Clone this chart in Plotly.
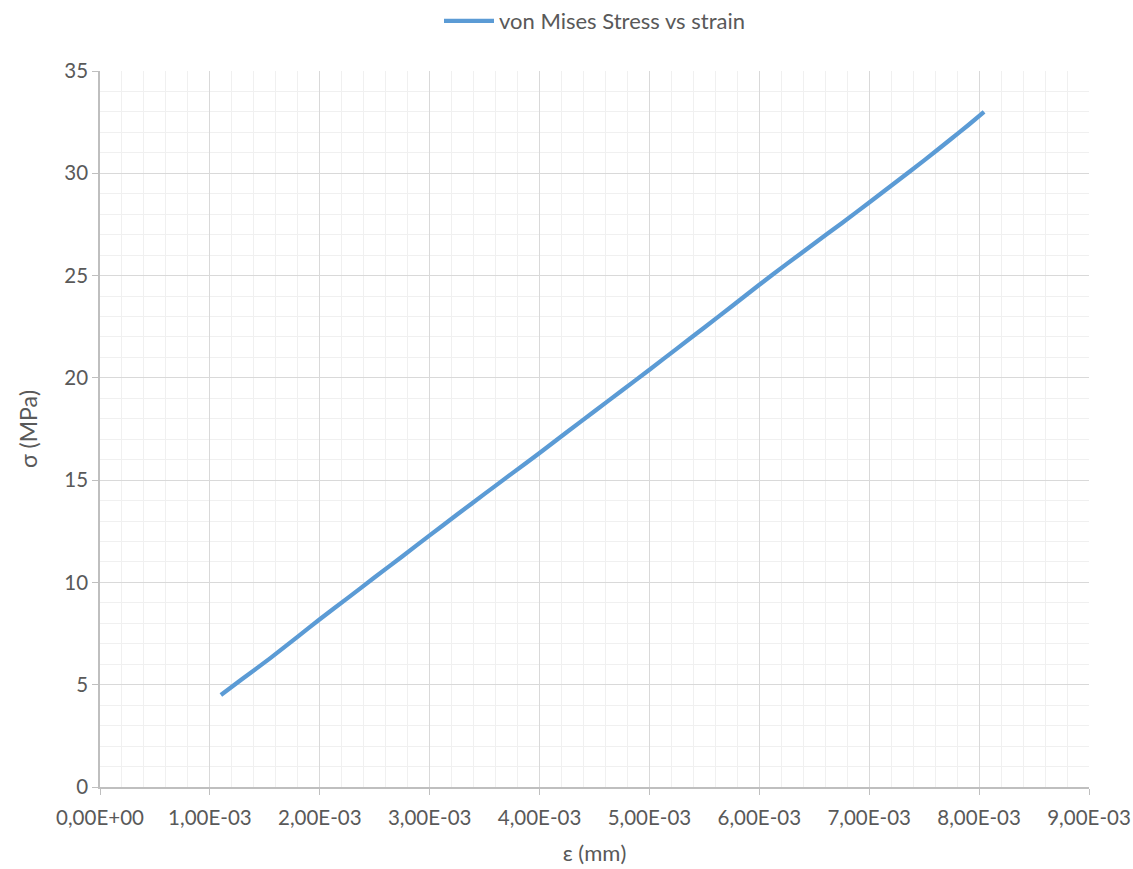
import plotly.graph_objects as go

# von Mises stress vs strain readings
strain = [1.10e-3, 1.30e-3, 1.55e-3, 1.80e-3, 2.00e-3, 2.25e-3, 2.50e-3, 2.75e-3,
          3.00e-3, 3.25e-3, 3.50e-3, 3.75e-3, 4.00e-3, 4.25e-3, 4.50e-3, 4.75e-3,
          5.00e-3, 5.25e-3, 5.50e-3, 5.75e-3, 6.00e-3, 6.25e-3, 6.50e-3, 6.75e-3,
          7.00e-3, 7.25e-3, 7.50e-3, 7.75e-3, 7.90e-3, 8.045e-3]
stress = [4.50, 5.30, 6.30, 7.35, 8.20, 9.22, 10.25, 11.27,
          12.30, 13.32, 14.33, 15.33, 16.33, 17.35, 18.37, 19.38,
          20.40, 21.43, 22.46, 23.50, 24.55, 25.57, 26.57, 27.56,
          28.57, 29.60, 30.63, 31.70, 32.35, 33.00]

x_ticks = [0, 1e-3, 2e-3, 3e-3, 4e-3, 5e-3, 6e-3, 7e-3, 8e-3, 9e-3]
x_tick_text = ["0,00E+00", "1,00E-03", "2,00E-03", "3,00E-03", "4,00E-03",
               "5,00E-03", "6,00E-03", "7,00E-03", "8,00E-03", "9,00E-03"]
y_ticks = [0, 5, 10, 15, 20, 25, 30, 35]

font_family = "Lato, 'Open Sans', sans-serif"
text_color = "#595959"

fig = go.Figure()
fig.add_trace(go.Scatter(
    x=strain, y=stress, mode="lines",
    name="von Mises Stress vs strain",
    line=dict(color="#5B9BD5", width=4.3, shape="spline", smoothing=0.3),
))

fig.update_layout(
    width=1133, height=869,
    margin=dict(l=100, r=44, t=71, b=82, autoexpand=False),
    paper_bgcolor="white", plot_bgcolor="white",
    font=dict(family=font_family, color=text_color, size=20),
    showlegend=True,
    legend=dict(orientation="h", x=0.5, xanchor="center", y=1.0,
                yanchor="top", yref="container",
                font=dict(size=22, color=text_color), itemwidth=50),
    xaxis=dict(
        range=[0, 9e-3], tickvals=x_ticks, ticktext=x_tick_text,
        showgrid=True, gridcolor="#d9d9d9", gridwidth=1.3,
        minor=dict(dtick=0.2e-3, showgrid=True, gridcolor="#f0f0f0", gridwidth=1.3),
        showline=True, linecolor="#bfbfbf", linewidth=1.5,
        ticks="outside", ticklen=6, tickcolor="#bfbfbf",
        ticklabelstandoff=6,
        zeroline=False,
        title=dict(text="ε (mm)", font=dict(size=22, color=text_color), standoff=17),
        tickfont=dict(size=20.5, color=text_color),
    ),
    yaxis=dict(
        range=[0, 35], tickvals=y_ticks,
        showgrid=True, gridcolor="#d9d9d9", gridwidth=1.3,
        minor=dict(dtick=1, showgrid=True, gridcolor="#f0f0f0", gridwidth=1.3),
        showline=True, linecolor="#bfbfbf", linewidth=1.5,
        ticks="outside", ticklen=6, tickcolor="#bfbfbf",
        zeroline=False,
        title=dict(text="σ (MPa)", font=dict(size=23, color=text_color), standoff=20),
        tickfont=dict(size=20.5, color=text_color),
    ),
)

fig.write_html("out.html")
